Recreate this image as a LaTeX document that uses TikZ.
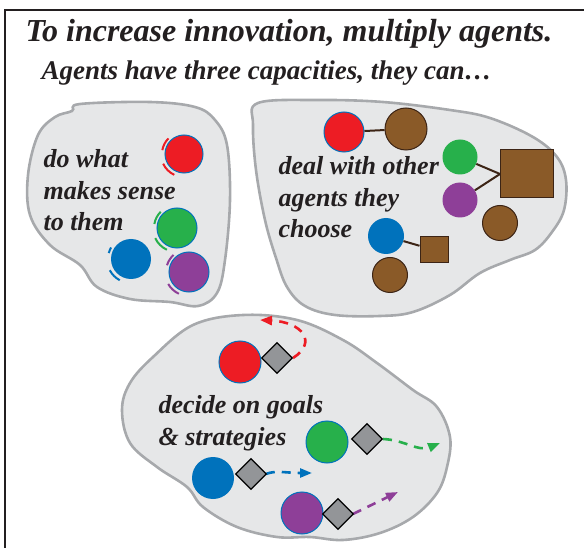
\documentclass[tikz,border=0pt]{standalone}
\usepackage{fontspec}
\setmainfont{Liberation Serif}
\usetikzlibrary{shapes.geometric,arrows.meta}

\definecolor{agred}{HTML}{ED1C24}
\definecolor{aggreen}{HTML}{27B04B}
\definecolor{agblue}{HTML}{0072BC}
\definecolor{agpurple}{HTML}{8E3F98}
\definecolor{agbrown}{HTML}{8A5A28}
\definecolor{agdark}{HTML}{3C2415}
\definecolor{blobfill}{HTML}{E6E7E8}
\definecolor{blobline}{HTML}{A7A9AC}
\definecolor{diagray}{HTML}{939598}
\definecolor{ink}{HTML}{231F20}

\tikzset{
  blob/.style={draw=blobline,fill=blobfill,line width=2.6pt},
  agent/.style={circle,inner sep=0pt,minimum size=#1},
  agent/.default=40pt,
  rim/.style={draw=agblue,line width=1pt},
  other/.style={fill=agbrown,draw=agdark,line width=1pt},
  link/.style={draw=agdark,line width=2pt},
  spin/.style={line width=2pt},
  choice/.style={diamond,inner sep=0pt,minimum size=31pt,fill=diagray,draw=black,line width=1.2pt},
  goal/.style={line width=2.6pt,dash pattern=on 9pt off 7pt,-{Triangle[length=12pt,width=9pt]}},
  say/.style={anchor=base west,align=left,text=ink,font=\fontsize{26}{31.5}\selectfont\bfseries\itshape},
}

\begin{document}
\begin{tikzpicture}[scale=1.000000,x=1pt,y=1pt]
\useasboundingbox (0.000000,-548.000000) rectangle (584.000000,0.000000);
% Drawing frame
\draw[color=ink,line width=2pt] (5.000000,-548.000000) -- (5.000000,-10.000000) -- (584.000000,-10.000000);
\node[say,font=\fontsize{32}{38}\selectfont\bfseries\itshape] (head) at (22.000000,-42.000000) {To increase innovation, multiply agents.};
\node[say,font=\fontsize{27}{32}\selectfont\bfseries\itshape] (sub) at (38.000000,-80.000000) {Agents have three capacities, they can…};
% Done with frame; drawing blobs
\draw[blob] plot[smooth cycle,tension=0.6] coordinates {(80,-104) (150,-102) (195,-107) (215,-120) (227,-145) (230,-200) (225,-260) (217,-293) (198,-306) (170,-302) (130,-299) (97,-287) (80,-265) (50,-245) (30,-215) (28,-175) (38,-135) (55,-117) (72,-111)};
\draw[blob] plot[smooth cycle,tension=0.6] coordinates {(258,-103) (317,-100) (383,-102) (450,-110) (490,-118) (533,-137) (557,-157) (566,-180) (564,-210) (552,-232) (535,-250) (510,-260) (480,-273) (450,-295) (413,-312) (380,-316) (335,-315) (305,-306) (287,-287) (276,-258) (265,-220) (256,-170) (253,-125)};
\draw[blob] plot[smooth cycle,tension=0.6] coordinates {(243,-315) (297,-320) (343,-340) (377,-363) (413,-390) (437,-407) (450,-437) (447,-467) (437,-493) (413,-517) (380,-533) (343,-540) (310,-537) (277,-537) (237,-527) (203,-507) (187,-487) (157,-467) (130,-443) (122,-410) (130,-383) (153,-357) (193,-325)};
% Done with blobs; drawing texts (anchored on the baseline of the last line)
\node[say] (sense) at (40.000000,-231.000000) {do what\\makes sense\\to them};
\node[say] (deal) at (275.000000,-238.000000) {deal with other\\agents they\\choose};
\node[say] (decide) at (155.000000,-445.000000) {decide on goals\\\& strategies};
% Done with texts; drawing agents
% Blob 1: do what makes sense
\node[agent=38pt,fill=agred,rim] (r1) at (184.000000,-154.000000) {};
\node[agent,fill=aggreen,rim] (g1) at (177.000000,-228.000000) {};
\node[agent,fill=agpurple,rim] (p1) at (189.000000,-272.000000) {};
\node[agent,fill=agblue] (u1) at (131.000000,-259.000000) {};
\draw[spin,color=agred] ([shift={(135:22pt)}]r1.center) arc (135:170:22pt);
\draw[spin,color=agred] ([shift={(205:23pt)}]r1.center) arc (205:245:23pt);
\draw[spin,color=aggreen] ([shift={(135:23pt)}]g1.center) arc (135:170:23pt);
\draw[spin,color=aggreen] ([shift={(205:24pt)}]g1.center) arc (205:245:24pt);
\draw[spin,color=agpurple] ([shift={(132:23pt)}]p1.center) arc (132:163:23pt);
\draw[spin,color=agpurple] ([shift={(210:24pt)}]p1.center) arc (210:245:24pt);
\draw[spin,color=agblue] ([shift={(150:23pt)}]u1.center) arc (150:165:23pt);
\draw[spin,color=agblue] ([shift={(208:24pt)}]u1.center) arc (208:242:24pt);
% Blob 2: deal with other agents
\node[agent,fill=agred,rim] (r2) at (344.000000,-132.000000) {};
\node[agent=42pt,other] (b1) at (406.000000,-129.000000) {};
\node[agent=35pt,fill=aggreen] (g2) at (460.000000,-157.000000) {};
\node[agent=35pt,fill=agpurple] (p2) at (460.000000,-200.000000) {};
\node[other,minimum width=53pt,minimum height=48pt] (sq1) at (527.000000,-174.000000) {};
\node[agent=35pt,other] (b2) at (500.000000,-223.000000) {};
\node[agent=36pt,fill=agblue] (u2) at (386.000000,-236.000000) {};
\node[other,minimum width=28pt,minimum height=26pt] (sq2) at (434.000000,-250.000000) {};
\node[agent=35pt,other] (b3) at (390.000000,-275.000000) {};
\draw[link] (r2) -- (b1);
\draw[link] (g2) -- (sq1.west);
\draw[link] (p2) -- (sq1.west);
\draw[link] (u2) -- (sq2);
% Blob 3: decide on goals
\coordinate (redtip) at (260.000000,-320.000000);
\coordinate (greentip) at (440.000000,-443.000000);
\coordinate (bluetip) at (312.000000,-473.000000);
\coordinate (purpletip) at (398.000000,-492.000000);
\node[agent=42pt,fill=agred,rim] (r3) at (240.000000,-362.000000) {};
\node[agent=42pt,fill=aggreen,rim] (g3) at (327.000000,-442.000000) {};
\node[agent=42pt,fill=agblue] (u3) at (213.000000,-478.000000) {};
\node[agent=42pt,fill=agpurple,rim] (p3) at (302.000000,-513.000000) {};
\draw[goal,color=agred] (293.000000,-358.000000) .. controls (318.000000,-342.000000) and (302.000000,-322.000000) .. (redtip);
\draw[goal,color=aggreen] (383.000000,-439.000000) .. controls (405.000000,-440.000000) and (418.000000,-452.000000) .. (greentip);
\draw[goal,color=agblue] (266.000000,-474.000000) .. controls (276.000000,-470.000000) and (286.000000,-473.000000) .. (bluetip);
\draw[goal,color=agpurple] (353.000000,-514.000000) -- (purpletip);
\node[choice] (d1) at (277.000000,-358.000000) {};
\node[choice] (d2) at (367.000000,-439.000000) {};
\node[choice] (d3) at (251.000000,-474.000000) {};
\node[choice] (d4) at (338.000000,-514.000000) {};
% Done with agents
\end{tikzpicture}
\end{document}
